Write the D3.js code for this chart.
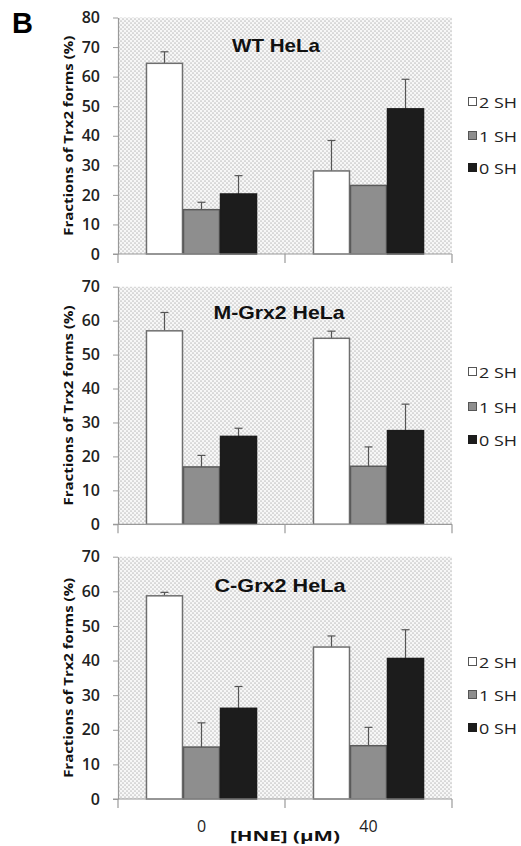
<!DOCTYPE html>
<html><head><meta charset="utf-8">
<script src="https://cdn.jsdelivr.net/npm/d3@7"></script>
<style>html,body{margin:0;padding:0;background:#fff;}svg{display:block;}</style>
</head><body>
<script>
const categories = ["0", "40"];
const series = ["2 SH", "1 SH", "0 SH"];
const panelTitles = ["WT HeLa", "M-Grx2 HeLa", "C-Grx2 HeLa"];
const yMaxes = [80, 70, 70];
const yTickSteps = [10, 10, 10];
// means [series][category]
const wtMeans = [[64.5, 28.1], [15.0, 23.2], [20.3, 49.1]];
const wtErrors = [[3.9, 10.3], [2.5, 0], [6.2, 10.0]];
const mGrxMeans = [[57.0, 54.8], [16.9, 17.1], [25.9, 27.6]];
const mGrxErrors = [[5.4, 2.1], [3.4, 5.7], [2.4, 7.8]];
const cGrxMeans = [[58.7, 43.9], [15.0, 15.4], [26.2, 40.6]];
const cGrxErrors = [[1.0, 3.2], [7.0, 5.3], [6.3, 8.3]];
const xAxisTitle = "[HNE] (\u03bcM)";
const yAxisTitle = "Fractions of Trx2 forms (%)";

const allMeans = [wtMeans, mGrxMeans, cGrxMeans];
const allErrors = [wtErrors, mGrxErrors, cGrxErrors];
const fills = ["#ffffff", "#8e8e8e", "#1c1c1c"];
const strokes = ["#6f6f6f", "#5a5a5a", "#1c1c1c"];

const W = 521, H = 846;
const svg = d3.select("body").append("svg").attr("width", W).attr("height", H);

const defs = svg.append("defs");
const pat = defs.append("pattern").attr("id", "dots").attr("patternUnits", "userSpaceOnUse")
  .attr("width", 4).attr("height", 4);
pat.append("rect").attr("width", 4).attr("height", 4).attr("fill", "#f7f7f7");
pat.append("circle").attr("cx", 1).attr("cy", 1).attr("r", 0.85).attr("fill", "#c0c0c0");
pat.append("circle").attr("cx", 3).attr("cy", 3).attr("r", 0.85).attr("fill", "#c0c0c0");

const xLeft = 118, xRight = 452;
const panelY = [[17.5, 254], [286.7, 524.3], [556.7, 799]];
const titleY = [52, 319, 592];
const titleX = [276, 279, 280];
const legendY = [[102, 136, 168], [372, 407, 440], [662, 695, 728]];

const x0 = d3.scaleBand().domain(categories).range([xLeft, xRight]).paddingInner(0.335).paddingOuter(0.1675);
const x1 = d3.scaleBand().domain(series).range([0, x0.bandwidth()]).padding(0);

panelTitles.forEach((title, p) => {
  const [yTop, yBot] = panelY[p];
  const y = d3.scaleLinear().domain([0, yMaxes[p]]).range([yBot, yTop]);
  const g = svg.append("g");

  g.append("rect").attr("x", xLeft).attr("y", yTop).attr("width", xRight - xLeft).attr("height", yBot - yTop)
    .attr("fill", "url(#dots)");

  // bars
  series.forEach((s, si) => {
    categories.forEach((c, ci) => {
      const v = allMeans[p][si][ci];
      const e = allErrors[p][si][ci];
      const bx = x0(c) + x1(s);
      const cx = bx + x1.bandwidth() / 2;
      if (e > 0) {
        g.append("line").attr("x1", cx).attr("x2", cx).attr("y1", y(v)).attr("y2", y(v + e))
          .attr("stroke", "#555").attr("stroke-width", 1.2);
        g.append("line").attr("x1", cx - 4).attr("x2", cx + 4).attr("y1", y(v + e)).attr("y2", y(v + e))
          .attr("stroke", "#555").attr("stroke-width", 1.2);
      }
      g.append("rect").attr("x", bx + 0.5).attr("y", y(v)).attr("width", x1.bandwidth() - 1)
        .attr("height", y(0) - y(v)).attr("fill", fills[si]).attr("stroke", strokes[si]).attr("stroke-width", 1.5);
    });
  });

  // y axis
  const yAxis = d3.axisLeft(y).tickValues(d3.range(0, yMaxes[p] + 0.1, yTickSteps[p])).tickSize(5).tickPadding(13).tickSizeOuter(0);
  const ya = g.append("g").attr("transform", `translate(${xLeft},0)`).call(yAxis);
  ya.select(".domain").attr("stroke", "#9a9a9a").attr("stroke-width", 1.2);
  ya.selectAll(".tick line").attr("stroke", "#9a9a9a");
  ya.selectAll(".tick text").attr("font-family", "'Open Sans'").attr("font-size", 16).attr("font-weight", 600).attr("fill", "#222");

  // x axis line & ticks at category boundaries
  g.append("line").attr("x1", xLeft - 5).attr("x2", xRight).attr("y1", yBot).attr("y2", yBot)
    .attr("stroke", "#9a9a9a").attr("stroke-width", 1.2);
  const bounds = [xLeft, (xLeft + xRight) / 2, xRight];
  bounds.forEach(bx => {
    g.append("line").attr("x1", bx).attr("x2", bx).attr("y1", yBot).attr("y2", yBot + 9)
      .attr("stroke", "#9a9a9a").attr("stroke-width", 1.2);
  });

  // title
  g.append("text").attr("x", titleX[p]).attr("y", titleY[p]).attr("text-anchor", "middle")
    .attr("font-family", "'Liberation Sans', Arial").attr("font-weight", "bold").attr("font-size", 19)
    .attr("fill", "#111").attr("textLength", p === 0 ? 88 : 131).attr("lengthAdjust", "spacingAndGlyphs").text(title);

  // y axis title
  g.append("text").attr("transform", `translate(73,${(yTop + yBot) / 2}) rotate(-90)`).attr("text-anchor", "middle")
    .attr("font-family", "'Open Sans'").attr("font-weight", "bold").attr("font-size", 13)
    .attr("fill", "#111").attr("textLength", 200).attr("lengthAdjust", "spacingAndGlyphs").text(yAxisTitle);

  // legend
  series.forEach((s, si) => {
    const ly = legendY[p][si];
    g.append("rect").attr("x", 468.5).attr("y", ly - 4.5).attr("width", 8).attr("height", 8)
      .attr("fill", fills[si]).attr("stroke", si === 2 ? "#1c1c1c" : "#555").attr("stroke-width", 1);
    g.append("text").attr("x", 479).attr("y", ly + 5.5).attr("font-family", "'Open Sans'").attr("font-size", 15)
      .attr("fill", "#222").attr("textLength", 38).attr("lengthAdjust", "spacingAndGlyphs").text(s);
  });
});

// x category labels (bottom panel)
categories.forEach(c => {
  svg.append("text").attr("x", x0(c) + x0.bandwidth() / 2).attr("y", 832).attr("text-anchor", "middle")
    .attr("font-family", "'Open Sans'").attr("font-size", 16).attr("fill", "#222").text(c);
});
svg.append("text").attr("x", 285).attr("y", 841).attr("text-anchor", "middle")
  .attr("font-family", "'Open Sans'").attr("font-weight", "bold").attr("font-size", 14)
  .attr("fill", "#111").attr("textLength", 110).attr("lengthAdjust", "spacingAndGlyphs").text(xAxisTitle);

svg.append("text").attr("x", 12).attr("y", 33).attr("font-family", "'Liberation Sans', Arial")
  .attr("font-weight", "bold").attr("font-size", 29).attr("fill", "#000").text("B");
</script>
</body></html>
